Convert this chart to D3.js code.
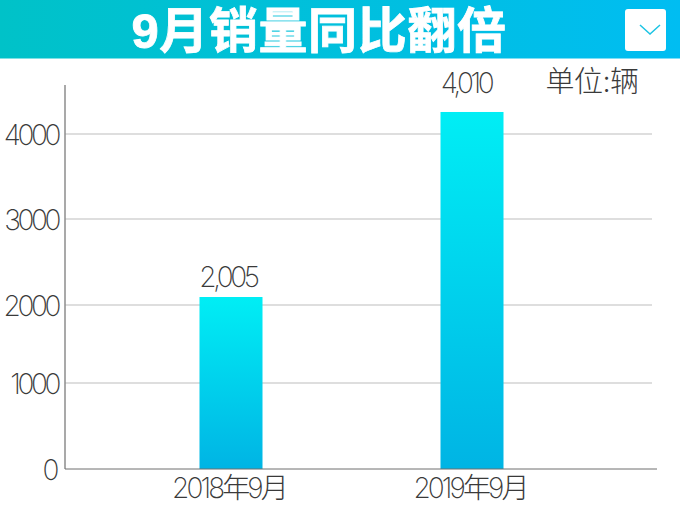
<!DOCTYPE html>
<html>
<head>
<meta charset="utf-8">
<script src="https://cdn.jsdelivr.net/npm/d3@7/dist/d3.min.js"></script>
<style>
  html, body { margin: 0; padding: 0; background: #fff; }
  svg { display: block; }
  text { font-family: Inter, "Noto Sans CJK SC", sans-serif; }
  .title { font-family: "Liberation Sans", "Noto Sans CJK SC", sans-serif; }
</style>
</head>
<body>
<svg id="chart"></svg>
<script>
const titleText = '9月销量同比翻倍'
const unitText = '单位:辆'
const categories = ['2018年9月', '2019年9月']
const valueLabels = ['2,005', '4,010']
// bar heights as drawn in the picture (taller than the printed numbers)
const barHeights = [2093, 4259]
const yTicks = [0, 1000, 2000, 3000, 4000]
// gridlines in the picture are not quite evenly spaced
const yTickPositions = [469, 383, 305, 219, 134]

const width = 680
const height = 510
const labelGaps = [10, 19]
const labelShifts = [-3, -6]

const svg = d3.select('#chart')
  .attr('width', width)
  .attr('height', height)

const y = d3.scaleLinear().domain(yTicks).range(yTickPositions)
const x = d3.scalePoint().domain(categories).range([231, 472])

const defs = svg.append('defs')

const headerGrad = defs.append('linearGradient').attr('id', 'headerGrad')
headerGrad.append('stop').attr('offset', '0%').attr('stop-color', '#00c2c8')
headerGrad.append('stop').attr('offset', '100%').attr('stop-color', '#00bdf2')

const barGrad = defs.append('linearGradient')
  .attr('id', 'barGrad')
  .attr('x1', 0).attr('y1', 0).attr('x2', 0).attr('y2', 1)
barGrad.append('stop').attr('offset', '0%').attr('stop-color', '#00eef5')
barGrad.append('stop').attr('offset', '100%').attr('stop-color', '#00b4e4')

// 标题栏
svg.append('rect')
  .attr('width', width)
  .attr('height', 58.5)
  .attr('fill', 'url(#headerGrad)')

svg.append('text')
  .attr('class', 'title')
  .attr('x', 319)
  .attr('y', 48)
  .attr('text-anchor', 'middle')
  .attr('fill', '#fff')
  .style('font-size', '49px')
  .style('font-weight', '700')
  .style('letter-spacing', '0.6px')
  .style('stroke', '#fff')
  .style('stroke-width', '0.8px')
  .text(titleText)

svg.append('rect')
  .attr('x', 625)
  .attr('y', 9)
  .attr('width', 41)
  .attr('height', 42)
  .attr('rx', 3)
  .attr('fill', '#fff')

svg.append('path')
  .attr('d', d3.line()([[640, 25], [650, 34], [660, 25]]))
  .attr('fill', 'none')
  .attr('stroke', '#1cc4e4')
  .attr('stroke-width', 1.5)

// 网格线
svg.append('g')
  .selectAll('line')
  .data(yTicks.slice(1))
  .enter()
  .append('line')
  .attr('x1', 65)
  .attr('x2', 652)
  .attr('y1', d => y(d))
  .attr('y2', d => y(d))
  .attr('stroke', '#bdbdbd')
  .attr('stroke-width', 1)

// 柱子
svg.append('g')
  .selectAll('rect')
  .data(barHeights)
  .enter()
  .append('rect')
  .attr('x', (d, i) => x(categories[i]) - 31.5)
  .attr('width', 63)
  .attr('y', d => y(d))
  .attr('height', d => y(0) - y(d))
  .attr('fill', 'url(#barGrad)')

// 坐标轴
svg.append('line')
  .attr('x1', 65).attr('x2', 65)
  .attr('y1', 85).attr('y2', y(0))
  .attr('stroke', '#8c8c8c')
  .attr('stroke-width', 1.5)

svg.append('line')
  .attr('x1', 65).attr('x2', 657)
  .attr('y1', y(0)).attr('y2', y(0))
  .attr('stroke', '#6e6e6e')
  .attr('stroke-width', 1)

const labelStyle = sel => sel
  .attr('fill', '#3a3a3a')
  .style('font-size', '28px')
  .style('font-weight', '200')
  .style('letter-spacing', '-3.4px')

svg.append('g')
  .selectAll('text')
  .data(yTicks)
  .enter()
  .append('text')
  .attr('x', d => d === 0 ? 56 : 58)
  .attr('y', d => y(d) + 11)
  .attr('text-anchor', 'end')
  .call(labelStyle)
  .text(d => d)

svg.append('g')
  .selectAll('text')
  .data(categories)
  .enter()
  .append('text')
  .attr('x', d => x(d) - 2)
  .attr('y', 498)
  .attr('text-anchor', 'middle')
  .call(labelStyle)
  .style('letter-spacing', '-2.9px')
  .text(d => d)

svg.append('g')
  .selectAll('text')
  .data(valueLabels)
  .enter()
  .append('text')
  .attr('x', (d, i) => x(categories[i]) + labelShifts[i])
  .attr('y', (d, i) => y(barHeights[i]) - labelGaps[i])
  .attr('text-anchor', 'middle')
  .call(labelStyle)
  .text(d => d)

svg.append('text')
  .attr('x', 592)
  .attr('y', 92)
  .attr('text-anchor', 'middle')
  .attr('fill', '#3a3a3a')
  .style('font-size', '29px')
  .style('font-weight', '300')
  .style('letter-spacing', '-0.5px')
  .text(unitText)
</script>
</body>
</html>
